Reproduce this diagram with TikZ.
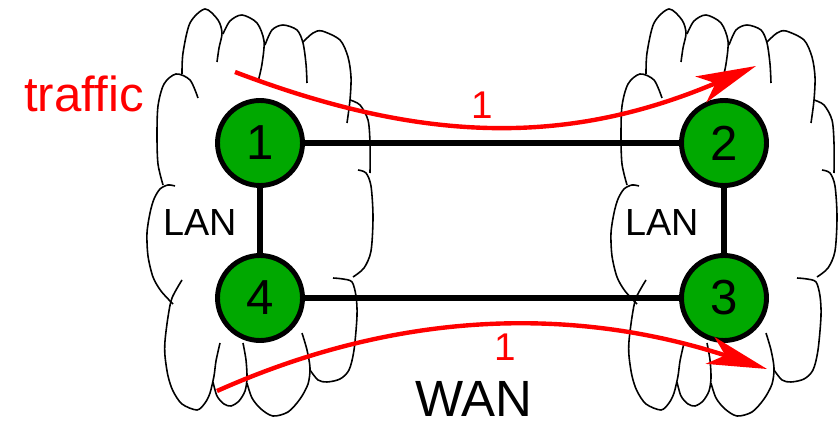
\documentclass[tikz,border=0pt]{standalone}
\usepackage{fontspec}
\setmainfont{Liberation Sans}
\usetikzlibrary{arrows.meta}
\definecolor{routergreen}{RGB}{0,168,0}

\begin{document}
\begin{tikzpicture}[x=0.02cm, y=0.02cm,
    puff/.style={line width=0.9pt, smooth},
    router/.style={circle, draw, line width=2.8pt, fill=routergreen,
      minimum size=1.7cm, inner sep=0pt, font=\fontsize{28}{30}\selectfont},
    link/.style={line width=3.6pt},
    flow/.style={red, line width=2.5pt, -{Stealth[length=34pt, width=16pt, inset=9pt]}},
    flowlbl/.style={red, anchor=base, font=\fontsize{22}{24}\selectfont},
    lanlbl/.style={anchor=base, font=\fontsize{21.5}{24}\selectfont}]
  \useasboundingbox (0,0) rectangle (838,426);

  \foreach \dx in {0,464} {
    \begin{scope}[shift={(\dx,0)}]
      \draw[puff] plot coordinates {(163,241) (158,262) (157,290) (158,320) (164,342) (176,352) (190,346) (198,328)};
      \draw[puff] plot coordinates {(182,352) (183,373) (190,403) (205,417) (218,406) (222,393) (219,378) (217,364)};
      \draw[puff] plot coordinates {(223,392) (230,405) (242,411) (257,403) (264,385) (262,362) (258,344)};
      \draw[puff] plot coordinates {(265,381) (272,396) (283,401) (297,396) (303,383) (306,362) (307,343)};
      \draw[puff] plot coordinates {(303,384) (313,393) (322,395) (340,386) (348,369) (351,349) (350,326) (347,303)};
      \draw[puff] plot coordinates {(350,326) (360,321) (368,306) (370,283) (370,253)};
      \draw[puff] plot coordinates {(358,256) (366,253) (371,240) (373,209) (371,175) (364,158) (353,149)};
      \draw[puff] plot coordinates {(333,148) (343,147) (352,144) (356,130) (357,110) (354,76) (349,56) (340,47) (327,44) (318,46) (310,56)};
      \draw[puff] plot coordinates {(247,43) (252,28) (261,17) (273,10) (288,14) (300,27) (308,42) (310,58) (307,76) (302,93)};
      \draw[puff] plot coordinates {(213,44) (217,30) (224,22) (231,20) (239,25) (245,35) (247,48) (246,66) (243,83)};
      \draw[puff] plot coordinates {(182,146) (172,128) (168,109) (165,85) (165,70) (168,50) (173,35) (182,22) (197,16) (205,23) (210,33) (214,50) (216,65) (220,83)};
      \draw[puff] plot coordinates {(173,122) (161,135) (153,149) (148,170) (147,193) (150,213) (154,227) (160,237) (168,241) (175,240)};
    \end{scope}
  }

  \node[router] (r1) at (260,283) {1};
  \node[router] (r2) at (724,283) {2};
  \node[router] (r3) at (724,128) {3};
  \node[router] (r4) at (260,128) {4};

  \draw[link] (r1) -- (r2);
  \draw[link] (r4) -- (r3);
  \draw[link] (r1) -- (r4);
  \draw[link] (r2) -- (r3);

  \node[lanlbl] (lan1) at (200,190) {LAN};
  \node[lanlbl] (lan2) at (662,190) {LAN};
  \node[anchor=base, inner sep=0pt, font=\fontsize{29}{32}\selectfont] (wan) at (474,10) {WAN};
  \node[red, anchor=base, font=\fontsize{28}{30}\selectfont] (traffic) at (84,314) {traffic};

  \coordinate (src1) at (235,354);
  \coordinate (dst1) at (756,360);
  \coordinate (src2) at (217,35);
  \coordinate (dst2) at (767,57);
  \draw[flow] (src1) .. controls (424,282) and (568,280) .. (dst1);
  \draw[flow] (src2) .. controls (439,134) and (620,105) .. (dst2);
  \node[flowlbl] (w1) at (482,307) {1};
  \node[flowlbl] (w2) at (505,66) {1};
\end{tikzpicture}
\end{document}
